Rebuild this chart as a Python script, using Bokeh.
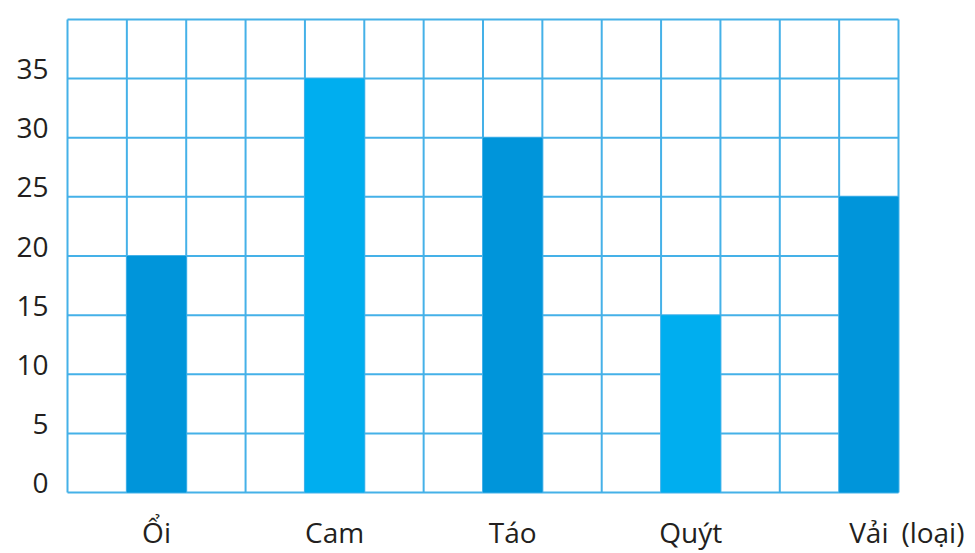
from bokeh.plotting import figure
from bokeh.models import (ColumnDataSource, Range1d, FixedTicker, LinearAxis)
from bokeh.embed import file_html
from bokeh.resources import INLINE

categories = ["Ổi", "Cam", "Táo", "Quýt", "Vải"]
values = [20, 35, 30, 15, 25]
bar_colors = ["#0095DA", "#00AEEF", "#0095DA", "#00AEEF", "#0095DA"]
y_ticks = [0, 5, 10, 15, 20, 25, 30, 35]
unit_label = "(loại)"

N_COLS = 14
Y_MAX = 40
GRID_COLOR = "#45B1E8"
TEXT_COLOR = "#231F20"
FONT = "Open Sans"
FS = "28px"

PX_X = 831 / N_COLS      # pixels per column
PX_Y = 475 / Y_MAX       # pixels per y unit
PAD = 2                  # pixels of room for the outer grid lines

W, H = 975, 553
F_LEFT, F_TOP, F_BOTTOM = 67 - PAD, 19 - PAD, 494 + PAD
x_start = -PAD / PX_X
x_end = x_start + (W - F_LEFT) / PX_X
y_start = -PAD / PX_Y
y_end = Y_MAX + PAD / PX_Y

p = figure(width=W, height=H, output_backend="svg", toolbar_location=None,
           x_range=Range1d(x_start, x_end), y_range=Range1d(y_start, y_end),
           x_axis_location=None, y_axis_location=None,
           min_border_left=F_LEFT, min_border_right=0, min_border_top=F_TOP,
           min_border_bottom=H - F_BOTTOM)
p.outline_line_color = None
p.background_fill_color = "white"
p.border_fill_color = "white"
for g in p.grid:
    g.visible = False

# grid
xs = list(range(N_COLS + 1))
ys = list(range(0, Y_MAX + 1, 5))
p.segment(x0=xs, x1=xs, y0=[0] * len(xs), y1=[Y_MAX] * len(xs),
          line_color=GRID_COLOR, line_width=2)
p.segment(x0=[0] * len(ys), x1=[N_COLS] * len(ys), y0=ys, y1=ys,
          line_color=GRID_COLOR, line_width=2)

# bars
left = [1 + 3 * i for i in range(len(categories))]
src = ColumnDataSource(dict(left=left, right=[l + 1 for l in left],
                            top=values, bottom=[0] * len(values), color=bar_colors))
p.quad(left="left", right="right", top="top", bottom="bottom", fill_color="color",
       line_color=None, source=src)

# y axis: shifted range so labels sit on the lines like the reference
shift = 9.5 / PX_Y
p.extra_y_ranges = {"lab": Range1d(y_start - shift, y_end - shift)}
yax = LinearAxis(y_range_name="lab", ticker=FixedTicker(ticks=y_ticks))
p.add_layout(yax, "left")

# x axis
unit_pos = 14.58
x_ticks = [l + 0.5 for l in left] + [unit_pos]
xax = LinearAxis(ticker=FixedTicker(ticks=x_ticks),
                 major_label_overrides={t: c for t, c in zip(x_ticks, categories + [unit_label])})
p.add_layout(xax, "below")

for ax in (xax, yax):
    ax.axis_line_color = None
    ax.major_tick_line_color = None
    ax.minor_tick_line_color = None
    ax.major_tick_in = 0
    ax.major_tick_out = 0
    ax.minor_tick_out = 0
    ax.major_label_text_font = FONT
    ax.major_label_text_font_size = FS
    ax.major_label_text_color = TEXT_COLOR
yax.major_label_standoff = 19 - PAD
xax.major_label_standoff = 20 - PAD

open("out.html", "w").write(file_html(p, INLINE))
